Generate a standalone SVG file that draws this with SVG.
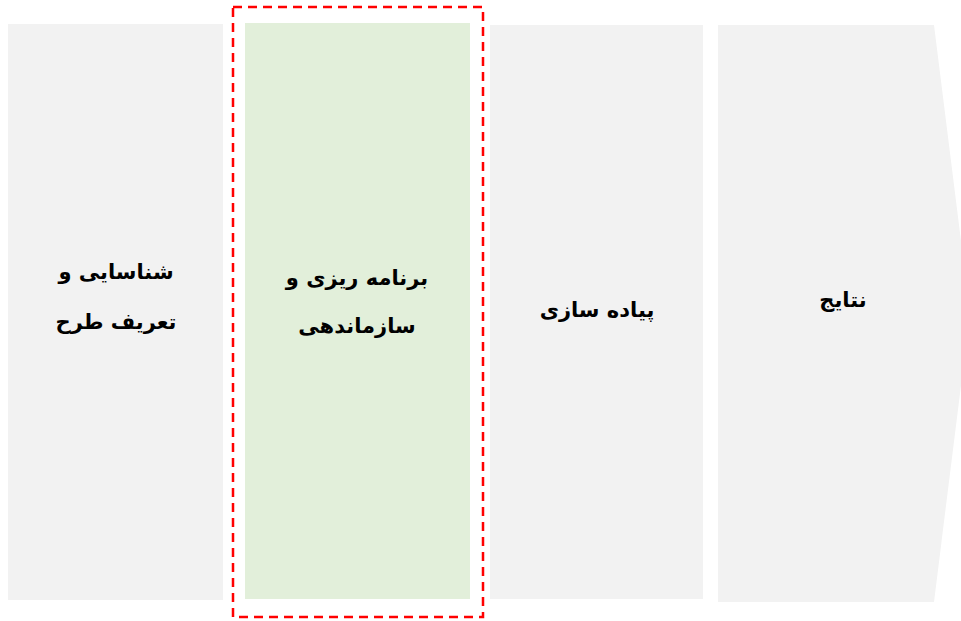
<svg xmlns="http://www.w3.org/2000/svg" width="961" height="621" viewBox="0 0 961 621">
<style>
.box{fill:#f2f2f2}
.green{fill:#e2efda}
.lbl{font-family:"DejaVu Sans","Noto Sans",sans-serif;font-weight:bold;font-size:21px;fill:#000;text-anchor:middle;direction:rtl}
.sel{fill:none;stroke:#ff0000;stroke-width:2.5;stroke-dasharray:9 6}
</style>
<rect width="961" height="621" fill="#ffffff"/>
<g id="node1">
<rect class="box" x="8" y="24" width="215" height="576"/>
<text class="lbl" x="116" y="279">شناسایی و</text>
<text class="lbl" x="116" y="329">تعریف طرح</text>
</g>
<g id="node2">
<rect class="green" x="245" y="23" width="225" height="576"/>
<text class="lbl" x="357" y="285">برنامه ریزی و</text>
<text class="lbl" x="357" y="333">سازماندهی</text>
</g>
<g id="node3">
<rect class="box" x="490" y="25" width="213" height="574"/>
<text class="lbl" x="597" y="317">پیاده سازی</text>
</g>
<g id="node4">
<polygon class="box" points="718,25 934,25 970,313 934,602 718,602"/>
<text class="lbl" x="843" y="307">نتایج</text>
</g>
<g id="connectors">
<rect class="sel" x="233" y="7" width="250" height="610"/>
</g>
</svg>
